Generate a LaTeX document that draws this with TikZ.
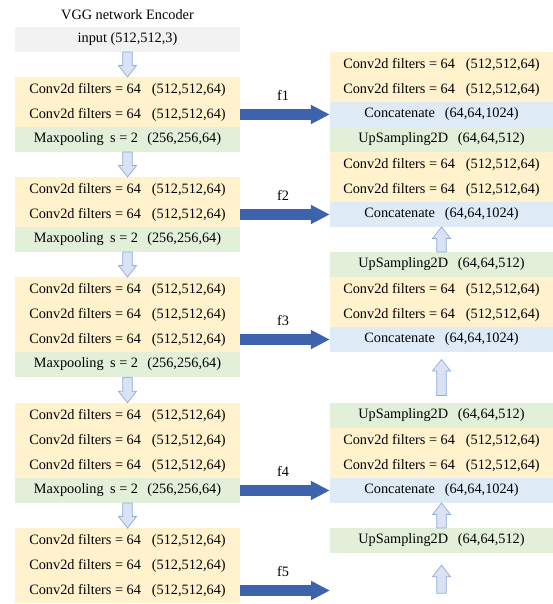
\documentclass[tikz,border=0pt]{standalone}
\usepackage{fontspec}
\setmainfont{Liberation Serif}
\usetikzlibrary{arrows.meta,calc}
\definecolor{cyel}{HTML}{FFF2CC}
\definecolor{cgrn}{HTML}{E2F0D9}
\definecolor{cblu}{HTML}{DEEBF7}
\definecolor{cgry}{HTML}{F2F2F2}
\definecolor{carr}{HTML}{3C63AC}
\definecolor{hfill}{HTML}{DAE3F3}
\definecolor{hdraw}{HTML}{8FAADC}
\newcommand\dgap{\hspace{0.68em}}
\newcommand\convtxt{Conv2d filters = 64\hspace{0.76em}(512,512,64)}
\newcommand\pooltxt{Maxpooling\hspace{0.45em}s = 2\hspace{0.64em}(256,256,64)}
\newcommand\cattxt{Concatenate\dgap(64,64,1024)}
\newcommand\uptxt{UpSampling2D\dgap(64,64,512)}
% hollow block arrow centred between #1 and #2, half length #3, pointing to #2
\newcommand\holarrow[3]{%
  \coordinate (hM) at ($(#1)!0.5!(#2)$);
  \coordinate (hT) at ($(hM)!#3!(#1)$);
  \coordinate (hP) at ($(hM)!#3!(#2)$);
  \coordinate (hH) at ($(hP)!11.5pt!(hT)$);
  \draw[harrow] ($(hT)!4.75pt!90:(hP)$) -- ($(hH)!4.75pt!90:(hP)$)
    -- ($(hH)!9pt!90:(hP)$) -- (hP) -- ($(hH)!9pt!-90:(hP)$)
    -- ($(hH)!4.75pt!-90:(hP)$) -- ($(hT)!4.75pt!-90:(hP)$) -- cycle;}
\begin{document}
\begin{tikzpicture}[x=1pt,y=-1pt,
  every node/.style={font=\fontsize{14.3}{16}\selectfont, inner sep=0pt, text=black},
  lrow/.style={minimum width=225pt, minimum height=25.3pt},
  rrow/.style={minimum width=223pt, minimum height=25.3pt},
  conv/.style={fill=cyel}, pool/.style={fill=cgrn}, cat/.style={fill=cblu},
  upl/.style={fill=cgrn}, inp/.style={fill=cgry},
  harrow/.style={draw=hdraw, fill=hfill, line width=0.7pt, line join=miter},
  barr/.style={draw=carr, line width=11pt, -{Triangle[length=19pt,width=18pt]}},
  flab/.style={midway, yshift=19pt, xshift=-2pt}]
\useasboundingbox (0,0) rectangle (553,604);
% encoder
\node (title) at (127.5,15) {VGG network Encoder};
\node[lrow,inp] (in) at (127.5,39.5) {input (512,512,3)};
\node[lrow,conv] (b1a) at (127.5,89.5) {\convtxt};
\node[lrow,conv] (b1b) at (127.5,114.5) {\convtxt};
\node[lrow,pool] (b1c) at (127.5,139.5) {\pooltxt};
\node[lrow,conv] (b2a) at (127.5,189.5) {\convtxt};
\node[lrow,conv] (b2b) at (127.5,214.5) {\convtxt};
\node[lrow,pool] (b2c) at (127.5,239.5) {\pooltxt};
\node[lrow,conv] (b3a) at (127.5,289.5) {\convtxt};
\node[lrow,conv] (b3b) at (127.5,314.5) {\convtxt};
\node[lrow,conv] (b3c) at (127.5,339.5) {\convtxt};
\node[lrow,pool] (b3d) at (127.5,364.5) {\pooltxt};
\node[lrow,conv] (b4a) at (127.5,415.5) {\convtxt};
\node[lrow,conv] (b4b) at (127.5,440.5) {\convtxt};
\node[lrow,conv] (b4c) at (127.5,465.5) {\convtxt};
\node[lrow,pool] (b4d) at (127.5,490.5) {\pooltxt};
\node[lrow,conv] (b5a) at (127.5,540.5) {\convtxt};
\node[lrow,conv] (b5b) at (127.5,565.5) {\convtxt};
\node[lrow,conv] (b5c) at (127.5,590.5) {\convtxt};
% decoder
\node[rrow,conv] (r1a) at (441.5,64.5) {\convtxt};
\node[rrow,conv] (r1b) at (441.5,89.5) {\convtxt};
\node[rrow,cat] (r1c) at (441.5,114.5) {\cattxt};
\node[rrow,upl] (r1d) at (441.5,139.5) {\uptxt};
\node[rrow,conv] (r1e) at (441.5,164.5) {\convtxt};
\node[rrow,conv] (r1f) at (441.5,189.5) {\convtxt};
\node[rrow,cat] (r1g) at (441.5,214.5) {\cattxt};
\node[rrow,upl] (r2a) at (441.5,264.5) {\uptxt};
\node[rrow,conv] (r2b) at (441.5,289.5) {\convtxt};
\node[rrow,conv] (r2c) at (441.5,314.5) {\convtxt};
\node[rrow,cat] (r2d) at (441.5,339.5) {\cattxt};
\node[rrow,upl] (r3a) at (441.5,415.5) {\uptxt};
\node[rrow,conv] (r3b) at (441.5,440.5) {\convtxt};
\node[rrow,conv] (r3c) at (441.5,465.5) {\convtxt};
\node[rrow,cat] (r3d) at (441.5,490.5) {\cattxt};
\node[rrow,upl] (r4a) at (441.5,540.5) {\uptxt};
\coordinate (rbot) at (441.5,605);
\coordinate (f5end) at (330,590.5);
% hollow arrows
\holarrow{in.south}{b1a.north}{12.5pt}
\holarrow{b1c.south}{b2a.north}{12.5pt}
\holarrow{b2c.south}{b3a.north}{12.5pt}
\holarrow{b3d.south}{b4a.north}{12.8pt}
\holarrow{b4d.south}{b5a.north}{12.5pt}
\holarrow{r2a.north}{r1g.south}{12.5pt}
\holarrow{r3a.north}{r2d.south}{18pt}
\holarrow{r4a.north}{r3d.south}{12.5pt}
\holarrow{rbot}{r4a.south}{14pt}
% skip connections
\draw[barr] (b1b.east) -- node[flab]{f1} (r1c.west);
\draw[barr] (b2b.east) -- node[flab]{f2} (r1g.west);
\draw[barr] (b3c.east) -- node[flab]{f3} (r2d.west);
\draw[barr] (b4d.east) -- node[flab]{f4} (r3d.west);
\draw[barr] (b5c.east) -- node[flab]{f5} (f5end);
\end{tikzpicture}
\end{document}
